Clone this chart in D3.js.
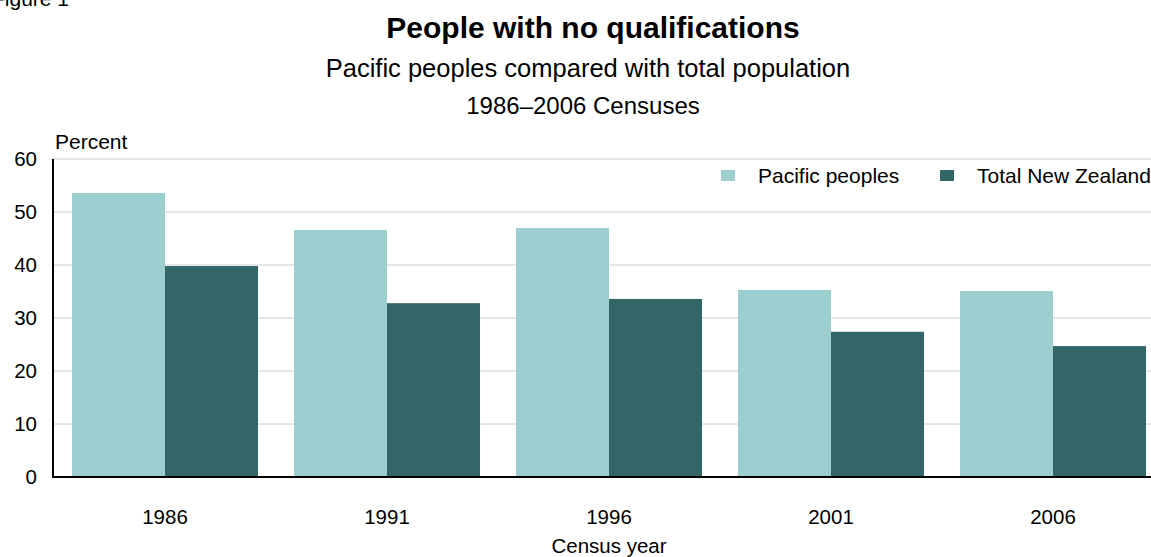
<!DOCTYPE html>
<html><head><meta charset="utf-8">
<script src="https://cdn.jsdelivr.net/npm/d3@7"></script>
<style>body{margin:0;background:#fff}text{font-family:Arial,"Liberation Sans",sans-serif;fill:#000}</style>
</head><body><svg id="c" width="1151" height="557"></svg>
<script>
const years=["1986","1991","1996","2001","2006"];
const pacific=[53.6,46.6,47.0,35.3,35.1];
const totalNZ=[39.8,32.8,33.6,27.4,24.7];
const seriesNames=["Pacific peoples","Total New Zealand"];
const colors=["#9ccecf","#336666"];
const yTicks=[0,10,20,30,40,50,60];
const svg=d3.select("#c");
const y=d3.scaleLinear().domain([0,60]).range([477,159]);
const x=d3.scaleBand().domain(years).range([53,1163]);
const inner=d3.scaleBand().domain([0,1]).range([19,19+186]);
svg.append("text").attr("x",-8).attr("y",6).attr("font-size",21).text("Figure 1");
svg.append("text").attr("x",593).attr("y",38).attr("text-anchor","middle").attr("font-size",30).attr("font-weight","bold").text("People with no qualifications");
svg.append("text").attr("x",588).attr("y",77).attr("text-anchor","middle").attr("font-size",25.5).text("Pacific peoples compared with total population");
svg.append("text").attr("x",583).attr("y",114).attr("text-anchor","middle").attr("font-size",24).text("1986–2006 Censuses");
svg.append("text").attr("x",55).attr("y",149).attr("font-size",21).text("Percent");
yTicks.forEach(t=>{
  if(t>0) svg.append("line").attr("x1",53).attr("x2",1151).attr("y1",y(t)).attr("y2",y(t)).attr("stroke","#cccccc");
  svg.append("text").attr("x",37).attr("y",y(t)+7).attr("text-anchor","end").attr("font-size",20.5).text(t);
});
[pacific,totalNZ].forEach((s,i)=>{
  svg.selectAll(null).data(s).enter().append("rect")
   .attr("x",(d,j)=>x(years[j])+inner(i)).attr("width",inner.bandwidth())
   .attr("y",d=>y(d)).attr("height",d=>y(0)-y(d)).attr("fill",colors[i]);
});
svg.append("line").attr("x1",53).attr("x2",53).attr("y1",159).attr("y2",478).attr("stroke","#000").attr("stroke-width",2);
svg.append("line").attr("x1",52).attr("x2",1151).attr("y1",477).attr("y2",477).attr("stroke","#000").attr("stroke-width",2);
years.forEach(yr=>svg.append("text").attr("x",x(yr)+19+93).attr("y",524).attr("text-anchor","middle").attr("font-size",20.5).text(yr));
svg.append("text").attr("x",609).attr("y",553).attr("text-anchor","middle").attr("font-size",20.5).text("Census year");
const lx=[721,940];
seriesNames.forEach((n,i)=>{
  svg.append("rect").attr("x",lx[i]).attr("y",170).attr("width",14).attr("height",11).attr("fill",colors[i]);
  svg.append("text").attr("x",lx[i]+37).attr("y",183).attr("font-size",21).text(n);
});
</script></body></html>
